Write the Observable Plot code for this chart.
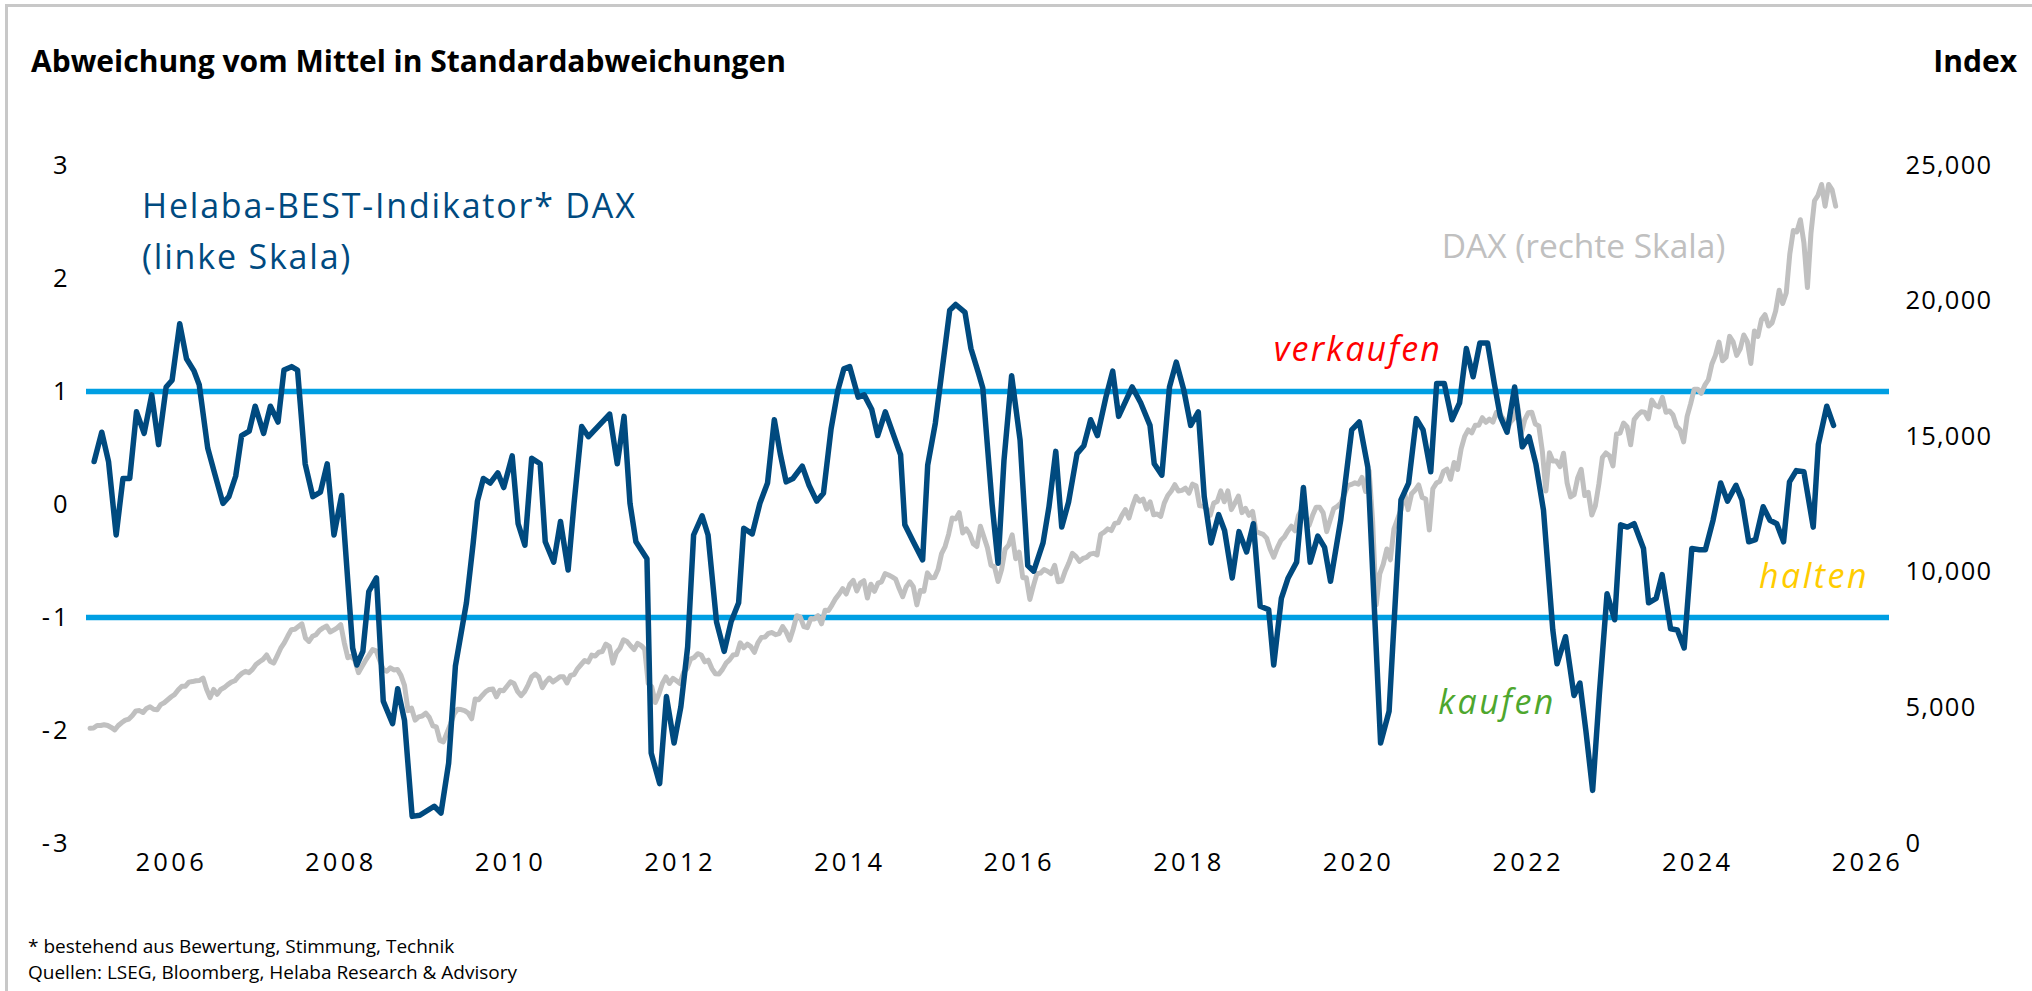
<!DOCTYPE html>
<html>
<head>
<meta charset="utf-8">
<script src="https://cdn.jsdelivr.net/npm/d3@7"></script>
<script src="https://cdn.jsdelivr.net/npm/@observablehq/plot@0.6"></script>
<style>
html, body { margin: 0; padding: 0; background: #fff; }
body { width: 2032px; height: 991px; overflow: hidden; position: relative; font-family: "Open Sans", sans-serif; color: #000; }
#chart { position: absolute; left: 0; top: 0; }
#frame { position: absolute; left: 5px; top: 4px; width: 2100px; height: 1100px; border-top: 3px solid #c8c8c8; border-left: 3px solid #c8c8c8; pointer-events: none; }
.title, .index { position: absolute; top: 46px; font-size: 30px; line-height: 30px; font-weight: 700; white-space: nowrap; }
.title { left: 31px; }
.index { right: 15px; }
.foot { position: absolute; left: 28px; font-size: 19px; line-height: 19px; white-space: nowrap; }
#chart g[aria-label="x-axis tick label"] text { letter-spacing: 3.3px; }
#chart g[aria-label="y-axis tick label"] text { letter-spacing: 3px; }
#chart g[aria-label="y-axis tick label"][text-anchor="start"] text { letter-spacing: 1.2px; }
</style>
</head>
<body>
<div class="title">Abweichung vom Mittel in Standardabweichungen</div>
<div class="index">Index</div>
<div id="chart"></div>
<div class="foot" style="top:937px">* bestehend aus Bewertung, Stimmung, Technik</div>
<div class="foot" style="top:963px">Quellen: LSEG, Bloomberg, Helaba Research &amp; Advisory</div>
<div id="frame"></div>
<script>
// ---- Helaba-BEST-Indikator DAX (left scale), month-end readings, decimal years ----
const bestYears = [
  2005.09, 2005.18, 2005.26, 2005.35, 2005.43, 2005.51, 2005.59, 2005.68, 2005.77, 2005.85, 2005.94,
  2006.01, 2006.10, 2006.18, 2006.27, 2006.33, 2006.43, 2006.51, 2006.61, 2006.68, 2006.76, 2006.83, 2006.92, 2006.99,
  2007.09, 2007.17, 2007.26, 2007.33, 2007.42, 2007.49, 2007.58, 2007.67, 2007.76, 2007.84, 2007.92,
  2008.01, 2008.14, 2008.19, 2008.26, 2008.33, 2008.42, 2008.50, 2008.61, 2008.67, 2008.75, 2008.84, 2008.93,
  2009.10, 2009.18, 2009.27, 2009.35, 2009.48, 2009.56, 2009.61, 2009.68, 2009.76, 2009.85, 2009.92,
  2010.02, 2010.09, 2010.17, 2010.25, 2010.35, 2010.41, 2010.51, 2010.59, 2010.68, 2010.75, 2010.84, 2010.92,
  2011.17, 2011.26, 2011.34, 2011.41, 2011.48, 2011.61, 2011.66, 2011.76, 2011.84, 2011.93,
  2012.01, 2012.09, 2012.16, 2012.26, 2012.33, 2012.43, 2012.52, 2012.60, 2012.69, 2012.75, 2012.85, 2012.94,
  2013.03, 2013.11, 2013.18, 2013.25, 2013.33, 2013.44, 2013.52, 2013.61, 2013.69, 2013.78, 2013.86, 2013.93,
  2014.00, 2014.10, 2014.17, 2014.26, 2014.33, 2014.42, 2014.51, 2014.60, 2014.65, 2014.75, 2014.86, 2014.92,
  2015.01, 2015.10, 2015.18, 2015.25, 2015.36, 2015.43, 2015.52, 2015.57, 2015.68, 2015.75, 2015.82, 2015.91,
  2016.01, 2016.10, 2016.17, 2016.28, 2016.35, 2016.43, 2016.50, 2016.58, 2016.68, 2016.76, 2016.84, 2016.92,
  2017.02, 2017.10, 2017.17, 2017.33, 2017.43, 2017.54, 2017.59, 2017.68, 2017.77, 2017.85, 2017.94,
  2018.02, 2018.11, 2018.18, 2018.26, 2018.35, 2018.42, 2018.51, 2018.59, 2018.68, 2018.76, 2018.84, 2018.94,
  2019.00, 2019.09, 2019.17, 2019.27, 2019.35, 2019.43, 2019.52, 2019.60, 2019.67, 2019.79, 2019.92,
  2020.01, 2020.11, 2020.26, 2020.36, 2020.44, 2020.50, 2020.59, 2020.68, 2020.76, 2020.85, 2020.92,
  2021.01, 2021.10, 2021.19, 2021.27, 2021.35, 2021.43, 2021.52, 2021.60, 2021.67, 2021.75, 2021.84, 2021.93,
  2022.01, 2022.09, 2022.18, 2022.29, 2022.34, 2022.44, 2022.54, 2022.61, 2022.68, 2022.76, 2022.84, 2022.93,
  2023.02, 2023.09, 2023.17, 2023.25, 2023.36, 2023.42, 2023.51, 2023.58, 2023.68, 2023.76, 2023.84, 2023.93,
  2024.02, 2024.09, 2024.18, 2024.27, 2024.35, 2024.45, 2024.52, 2024.60, 2024.68, 2024.77, 2024.85, 2024.93,
  2025.01, 2025.08, 2025.16, 2025.25, 2025.36, 2025.42, 2025.52, 2025.60
];
const bestValues = [
  0.38, 0.64, 0.38, -0.27, 0.23, 0.23, 0.82, 0.63, 0.97, 0.53, 1.04,
  1.10, 1.60, 1.29, 1.18, 1.06, 0.50, 0.28, 0.01, 0.07, 0.25, 0.61, 0.65, 0.87,
  0.63, 0.87, 0.73, 1.19, 1.22, 1.19, 0.36, 0.07, 0.11, 0.36, -0.27,
  0.08, -1.27, -1.42, -1.30, -0.77, -0.65, -1.74, -1.94, -1.63, -1.91, -2.76, -2.75,
  -2.67, -2.73, -2.29, -1.43, -0.87, -0.34, 0.03, 0.23, 0.19, 0.28, 0.15,
  0.43, -0.17, -0.36, 0.41, 0.36, -0.33, -0.51, -0.15, -0.58, 0.01, 0.69, 0.60,
  0.80, 0.36, 0.78, 0.01, -0.33, -0.48, -2.20, -2.47, -1.70, -2.11,
  -1.79, -1.26, -0.27, -0.10, -0.27, -1.04, -1.30, -1.04, -0.87, -0.21, -0.26, 0.01,
  0.19, 0.75, 0.45, 0.20, 0.23, 0.34, 0.17, 0.03, 0.10, 0.67, 1.01, 1.20,
  1.22, 0.95, 0.97, 0.84, 0.61, 0.82, 0.63, 0.44, -0.18, -0.33, -0.49, 0.35,
  0.72, 1.25, 1.72, 1.77, 1.70, 1.38, 1.16, 1.03, 0.00, -0.52, 0.39, 1.14,
  0.57, -0.54, -0.59, -0.34, -0.02, 0.47, -0.20, 0.02, 0.45, 0.52, 0.75, 0.61,
  0.95, 1.18, 0.78, 1.04, 0.90, 0.70, 0.36, 0.26, 1.04, 1.26, 1.01,
  0.70, 0.82, 0.07, -0.34, -0.09, -0.23, -0.65, -0.24, -0.42, -0.17, -0.90, -0.93,
  -1.42, -0.83, -0.65, -0.51, 0.15, -0.51, -0.28, -0.38, -0.68, -0.14, 0.66,
  0.73, 0.33, -2.11, -1.83, -0.76, 0.04, 0.19, 0.76, 0.66, 0.29, 1.07,
  1.07, 0.75, 0.90, 1.38, 1.13, 1.43, 1.43, 1.07, 0.78, 0.64, 1.04, 0.51,
  0.60, 0.36, -0.05, -1.11, -1.41, -1.17, -1.69, -1.58, -2.00, -2.53, -1.67, -0.79,
  -1.02, -0.18, -0.20, -0.17, -0.39, -0.87, -0.83, -0.62, -1.10, -1.11, -1.27, -0.39,
  -0.40, -0.40, -0.14, 0.19, 0.03, 0.17, 0.04, -0.33, -0.31, -0.02, -0.14, -0.17,
  -0.33, 0.20, 0.30, 0.29, -0.20, 0.53, 0.87, 0.70
];

// ---- DAX (right scale), semi-monthly readings (mid-month, month-end) from Jan 2005 ----
const daxValues = [
  4250, 4260, 4350, 4350, 4380, 4350, 4280, 4190, 4350, 4460, 4550, 4590, 4720, 4890, 4900, 4830, 4980, 5040, 4950, 4930, 5120, 5190, 5300, 5410,
  5500, 5670, 5800, 5800, 5950, 5970, 6000, 6010, 6100, 5690, 5380, 5680, 5500, 5680, 5750, 5860, 5950, 6000, 6150, 6270, 6350, 6300, 6420, 6600,
  6700, 6790, 6950, 6720, 6650, 6920, 7200, 7400, 7650, 7880, 7900, 8000, 8100, 7580, 7450, 7640, 7700, 7860, 7950, 8020, 7800, 7870, 7950, 8070,
  7400, 6850, 6900, 6750, 6300, 6530, 6750, 6950, 7150, 7100, 6750, 6420, 6350, 6480, 6400, 6420, 6200, 5830, 4900, 4990, 4550, 4670, 4700, 4810,
  4650, 4340, 4300, 3800, 3750, 4080, 4400, 4770, 4950, 4940, 4900, 4810, 4600, 5330, 5300, 5460, 5600, 5680, 5700, 5410, 5650, 5630, 5800, 5960,
  5900, 5610, 5450, 5600, 5850, 6150, 6250, 6140, 5750, 5960, 6100, 5960, 6050, 6150, 6150, 5920, 6200, 6230, 6450, 6600, 6750, 6690, 6950, 6910,
  7050, 7080, 7350, 7270, 6650, 7040, 7200, 7510, 7450, 7290, 7150, 7380, 7300, 7160, 5900, 5780, 5200, 5500, 5900, 6140, 5900, 6090, 6000, 5900,
  6300, 6460, 6800, 6860, 7000, 6950, 6700, 6760, 6450, 6260, 6250, 6420, 6650, 6770, 6950, 6970, 7400, 7220, 7350, 7260, 7050, 7400, 7600, 7610,
  7750, 7780, 7700, 7740, 8000, 7800, 7500, 7910, 8400, 8350, 8000, 7960, 8300, 8280, 8400, 8100, 8600, 8590, 8800, 9030, 9200, 9400, 9200, 9550,
  9700, 9310, 9600, 9690, 9050, 9560, 9300, 9600, 9650, 9950, 9900, 9830, 9750, 9400, 9100, 9470, 9650, 9470, 8800, 9330, 9300, 9980, 9800, 9810,
  10100, 10690, 10950, 11400, 12000, 11970, 12200, 11450, 11600, 11410, 11050, 10950, 11700, 11300, 10900, 10260, 10200, 9660, 10100, 10850, 11000, 11380, 10500, 10740,
  9800, 9800, 9000, 9500, 9950, 9970, 10100, 10040, 9950, 10260, 9650, 9680, 10050, 10340, 10700, 10590, 10400, 10510, 10550, 10670, 10700, 10640, 11400, 11480,
  11600, 11540, 11800, 11830, 12100, 12310, 12000, 12440, 12800, 12620, 12700, 12330, 12600, 12120, 12150, 12060, 12550, 12830, 13000, 13230, 13000, 13020, 13100, 12920,
  13250, 13190, 12450, 12440, 12350, 12100, 12550, 12610, 13000, 12600, 13000, 12310, 12550, 12810, 12200, 12360, 12100, 12250, 11500, 11450, 11400, 11260, 10850, 10560,
  10900, 11170, 11300, 11520, 11700, 11530, 12100, 12340, 12000, 11730, 12100, 12400, 12400, 12190, 11500, 11940, 12350, 12430, 12550, 12870, 13200, 13240, 13300, 13250,
  13500, 12980, 13750, 11890, 8800, 9940, 10300, 10860, 10460, 11590, 11950, 12310, 12930, 12310, 12900, 13030, 13220, 12760, 12700, 11560, 13080, 13290, 13360, 13720,
  13800, 13430, 14050, 13790, 14550, 15010, 15250, 15140, 15420, 15420, 15700, 15530, 15650, 15540, 15900, 15840, 15650, 15260, 15550, 15690, 16150, 15100, 15620, 15880,
  15900, 15470, 15400, 14460, 13000, 14410, 14100, 14100, 13900, 14390, 13300, 12780, 12860, 13480, 13800, 12830, 12950, 12110, 12450, 13250, 14230, 14400, 14300, 13920,
  15100, 15130, 15500, 15370, 14700, 15630, 15800, 15920, 15900, 15660, 16350, 16150, 16100, 16450, 15900, 15950, 15800, 15390, 15250, 14810, 15750, 16220, 16750, 16750,
  16600, 16900, 17100, 17680, 18000, 18490, 17800, 17930, 18700, 18500, 18000, 18240, 18750, 18510, 17700, 18900, 18700, 19320, 19500, 19080, 19200, 19630, 20400, 19910,
  20300, 21730, 22600, 22550, 23000, 22160, 20500, 22500, 23700, 23900, 24300, 23500, 24300, 24100, 23500
];
const daxStartYear = 2005;
const daxPerYear = 24;

// ---- thresholds and axes ----
const thresholds = [1, -1];           // verkaufen / kaufen
const leftTicks = [-3, -2, -1, 0, 1, 2, 3];
const leftDomain = [-3, 3];
const daxTicks = [0, 5000, 10000, 15000, 20000, 25000];
const daxDomain = [0, 25000];
const xTickYears = [2006, 2008, 2010, 2012, 2014, 2016, 2018, 2020, 2022, 2024, 2026];
const xDomainYears = [2005, 2026.26];

// ---- helpers ----
const dec = y => {
  const yr = Math.floor(y);
  const s = Date.UTC(yr, 0, 1), e = Date.UTC(yr + 1, 0, 1);
  return new Date(s + (y - yr) * (e - s));
};
const toLeft = v => leftDomain[0] + (v - daxDomain[0]) / (daxDomain[1] - daxDomain[0]) * (leftDomain[1] - leftDomain[0]);
const fromLeft = v => daxDomain[0] + (v - leftDomain[0]) / (leftDomain[1] - leftDomain[0]) * (daxDomain[1] - daxDomain[0]);
const fmtDax = d3.format(",");

const best = bestYears.map((y, i) => ({date: dec(y), value: bestValues[i]}));
const dax = daxValues.map((v, i) => ({date: dec(daxStartYear + (i + 1) / daxPerYear), value: toLeft(v)}));

const navy = "#004A7F";
const plot = Plot.plot({
  width: 2032,
  height: 991,
  marginLeft: 86,
  marginRight: 143,
  marginTop: 165,
  marginBottom: 148,
  style: {fontFamily: "'Open Sans', sans-serif", fontSize: "25.5px", color: "#000", background: "transparent", overflow: "visible"},
  x: {type: "utc", domain: xDomainYears.map(dec)},
  y: {domain: leftDomain},
  marks: [
    Plot.ruleY(thresholds, {stroke: "#009FE3", strokeWidth: 5.5}),
    Plot.line(dax, {x: "date", y: "value", stroke: "#C0C0C0", strokeWidth: 5, strokeLinejoin: "round"}),
    Plot.line(best, {x: "date", y: "value", stroke: navy, strokeWidth: 5.5, strokeLinejoin: "round"}),
    Plot.axisX({ticks: xTickYears.map(dec), tickFormat: d3.utcFormat("%Y"), tickSize: 0, tickPadding: 9, label: null, fontSize: 25.5}),
    Plot.axisY({anchor: "left", ticks: leftTicks, tickFormat: d => String(d), tickSize: 0, tickPadding: 16, label: null, fontSize: 25.5}),
    Plot.axisY({anchor: "right", ticks: daxTicks.map(toLeft), tickFormat: d => fmtDax(Math.round(fromLeft(d))), tickSize: 0, tickPadding: 16, label: null, fontSize: 25.5}),
    Plot.text(["Helaba-BEST-Indikator* DAX\n(linke Skala)"], {
      x: [dec(2005.655)], y: [2.086], text: d => d, textAnchor: "start", lineAnchor: "bottom", lineHeight: 1.49,
      fill: navy, fontSize: 34
    }),
    Plot.text(["DAX (rechte Skala)"], {
      x: [dec(2020.98)], y: [2.177], text: d => d, textAnchor: "start", lineAnchor: "bottom",
      fill: "#C0C0C0", fontSize: 33.5
    }),
    Plot.text(["verkaufen"], {
      x: [dec(2019.0)], y: [1.274], text: d => d, textAnchor: "start", lineAnchor: "bottom",
      fill: "#FF0000", fontSize: 34, fontStyle: "italic"
    }),
    Plot.text(["halten"], {
      x: [dec(2024.72)], y: [-0.735], text: d => d, textAnchor: "start", lineAnchor: "bottom",
      fill: "#FFCC00", fontSize: 34, fontStyle: "italic"
    }),
    Plot.text(["kaufen"], {
      x: [dec(2020.94)], y: [-1.85], text: d => d, textAnchor: "start", lineAnchor: "bottom",
      fill: "#4EA72E", fontSize: 34, fontStyle: "italic"
    })
  ]
});
// letter spacing for the in-chart labels (the source font runs wider than Open Sans)
const spacing = [["Helaba", "1.8px"], ["verkaufen", "2.2px"], ["halten", "2.5px"], ["kaufen", "2.5px"]];
d3.select(plot).selectAll('g[aria-label="text"] text').each(function () {
  const t = this.textContent;
  for (const [k, s] of spacing) if (t.startsWith(k)) { this.style.letterSpacing = s; break; }
});
document.getElementById("chart").appendChild(plot);
</script>
</body>
</html>
